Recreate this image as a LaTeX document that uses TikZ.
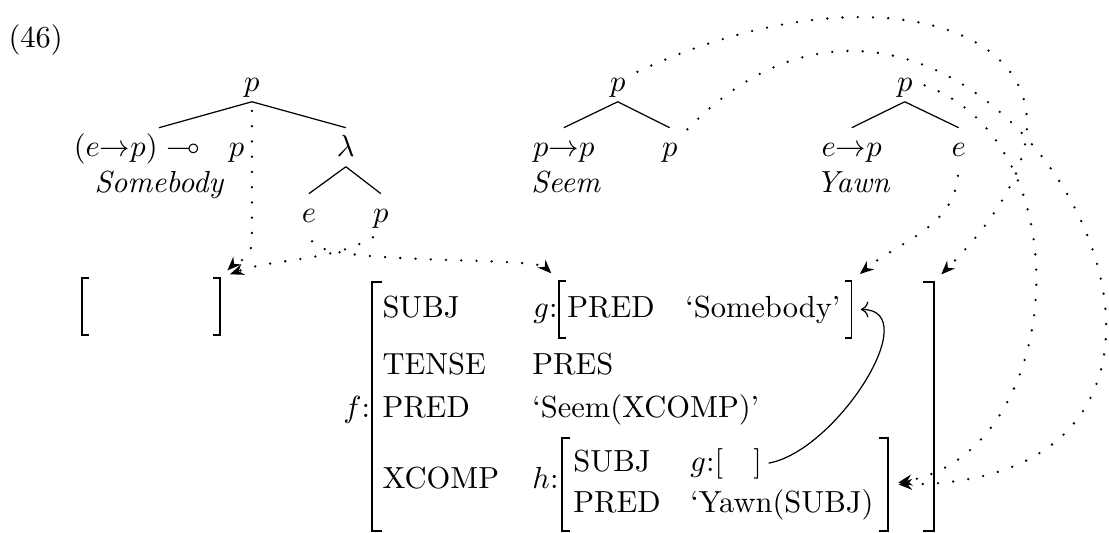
\documentclass[tikz,border=0pt]{standalone}
\usepackage{amssymb}
\usetikzlibrary{arrows.meta,fit}

\begin{document}
\begin{tikzpicture}[
    tnode/.style={inner sep=1pt, text height=8.4pt, text depth=2pt, anchor=base},
    word/.style={inner sep=0pt, anchor=base, font=\itshape},
    attr/.style={inner sep=0pt, anchor=base west},
    fbox/.style={inner sep=0pt, outer sep=0pt},
    link/.style={line width=0.85pt, line cap=round, dash pattern=on 0pt off 5pt,
        shorten <=3pt, shorten >=3.5pt, -{Stealth[length=4.5pt, width=3.6pt]}}
]
    \useasboundingbox (0,0) rectangle (12.78,-6.14);
    \node[attr] (ex) at (0.092,-0.553) {(46)};

    % 語義樹 Somebody
    \node[tnode] (sb-root) at (2.903,-1.060) {$p$};
    \node[tnode] (sb-l) at (1.832,-1.809) {$(e{\rightarrow}p)\multimap~~p$};
    \node[word] (sb-word) at (1.832,-2.223) {Somebody};
    \node[tnode] (sb-lam) at (3.986,-1.809) {$\lambda$};
    \node[tnode] (sb-e) at (3.560,-2.569) {$e$};
    \node[tnode] (sb-p) at (4.389,-2.569) {$p$};

    % 語義樹 Seem
    \node[tnode] (sm-root) at (7.119,-1.060) {$p$};
    \node[tnode] (sm-l) at (6.497,-1.809) {$p{\rightarrow}p$};
    \node[word] (sm-word) at (6.520,-2.223) {Seem};
    \node[tnode] (sm-r) at (7.718,-1.809) {$p$};

    % 語義樹 Yawn
    \node[tnode] (yw-root) at (10.426,-1.060) {$p$};
    \node[tnode] (yw-l) at (9.815,-1.809) {$e{\rightarrow}p$};
    \node[word] (yw-word) at (9.827,-2.223) {Yawn};
    \node[tnode] (yw-e) at (11.048,-1.809) {$e$};

    \foreach \a/\b in {sb-root/sb-l, sb-root/sb-lam, sb-lam/sb-e, sb-lam/sb-p,
                       sm-root/sm-l, sm-root/sm-r, yw-root/yw-l, yw-root/yw-e}
        \draw (\a.south) -- (\b.north);

    % f-結構的方括號
    \node[fbox, fit={(0.945,-3.203) (2.534,-3.859)}] (empty) {};
    \node[fbox, fit={(6.440,-3.237) (9.815,-3.894)}] (gfs) {};
    \node[fbox, fit={(4.285,-3.249) (10.760,-6.117)}] (ffs) {};
    \node[fbox, fit={(6.474,-5.046) (10.230,-6.117)}] (hfs) {};
    \foreach \s/\t/\w in {empty/2.2pt/0.45pt, gfs/2.2pt/0.45pt, hfs/2.8pt/0.55pt, ffs/3.4pt/0.7pt}
        \draw[line width=\w] ([xshift=\t]\s.north west) -| (\s.south west) -- ++(\t,0)
            ([xshift=-\t]\s.north east) -| (\s.south east) -- ++(-\t,0);

    % f-結構的內容
    \node[attr] (f-lab) at (3.951,-4.815) {$f$:};
    \foreach \y/\a in {-3.663/SUBJ, -4.320/TENSE, -4.815/PRED, -5.633/XCOMP}
        \node[attr] (f-\a) at (4.401,\y) {\a};
    \node[attr] (g-lab) at (6.140,-3.663) {$g$:};
    \node[attr] (g-pred) at (6.532,-3.663) {PRED};
    \node[attr] (g-val) at (7.891,-3.663) {`Somebody'};
    \node[attr] (f-tense) at (6.129,-4.320) {PRES};
    \node[attr] (f-pred) at (6.129,-4.815) {`Seem(XCOMP)'};
    \node[attr] (h-lab) at (6.129,-5.633) {$h$:};
    \node[attr] (h-subj) at (6.601,-5.437) {SUBJ};
    \node[attr] (gin) at (7.949,-5.437) {$g$:[\quad]};
    \node[attr] (h-pred) at (6.601,-5.910) {PRED};
    \node[attr] (h-val) at (7.949,-5.910) {`Yawn(SUBJ)};

    % 對應關係
    \draw[link] (sb-root.south) -- ++(0,-1.6) to[out=-90,in=45] (empty.north east);
    \draw[link] (sb-p.south) to[out=-150,in=20,looseness=0.9] (empty.north east);
    \draw[link] (sb-e.south) to[out=-70,in=135,looseness=0.35] (gfs.north west);
    \draw[link] (sm-root.30) to[out=25,in=45,looseness=2.2] (ffs.north east);
    \draw[link] (sm-r.45) to[out=46,in=0,out distance=4.9cm,in distance=5.2cm] (hfs.east);
    \draw[link] (yw-root.east) to[out=-20,in=10,looseness=1.15] (hfs.east);
    \draw[link] (yw-e.south) to[out=-95,in=40] (gfs.north east);
    \draw[->, shorten <=2pt, shorten >=3pt] (gin.east) to[out=10,in=0,looseness=1.07] (gfs.east);
\end{tikzpicture}
\end{document}
